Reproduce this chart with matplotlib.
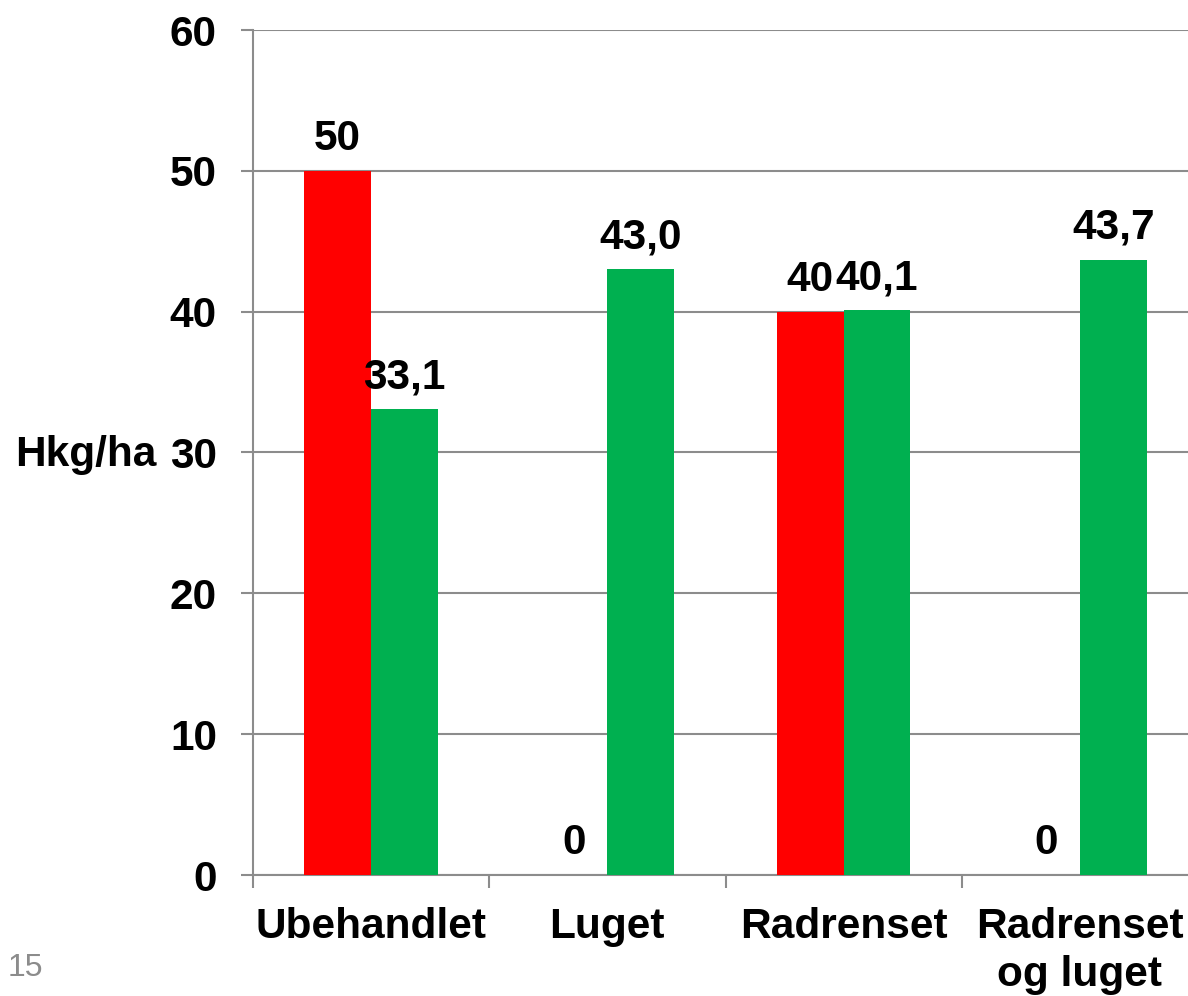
import matplotlib
matplotlib.use("Agg")
import matplotlib.pyplot as plt
import numpy as np

categories = ["Ubehandlet", "Luget", "Radrenset", "Radrenset\nog luget"]
red_values = [50, 0, 40, 0]
green_values = [33.1, 43.0, 40.1, 43.7]
red_labels = ["50", "0", "40", "0"]
green_labels = ["33,1", "43,0", "40,1", "43,7"]
yticks = [0, 10, 20, 30, 40, 50, 60]

plt.rcParams['font.family'] = ['Liberation Sans', 'DejaVu Sans']

FS = 30.5
fig = plt.figure(figsize=(11.88, 9.96), dpi=100)
ax = fig.add_axes([253/1188, 1-875/996, (1198-253)/1188, (875-30)/996])

x = np.arange(len(categories))
w = 0.283
grid_c = "#8c8c8c"
rb = ax.bar(x - w/2, red_values, w, color="#FF0000", zorder=3)
gb = ax.bar(x + w/2, green_values, w, color="#00B050", zorder=3)

for bars, labels in ((rb, red_labels), (gb, green_labels)):
    for b, lab in zip(bars, labels):
        ax.annotate(lab, (b.get_x() + b.get_width()/2, b.get_height()),
                    xytext=(0, 8.5), textcoords="offset points",
                    ha="center", va="bottom", fontsize=FS, fontweight="bold")

ax.set_xlim(-0.5, len(categories) - 0.5)
ax.set_ylim(0, 60)
ax.set_yticks(yticks)
ax.set_yticklabels([str(t) for t in yticks], fontsize=FS, fontweight="bold")
ax.yaxis.grid(True, color=grid_c, linewidth=1.5, zorder=0)
ax.tick_params(axis="y", length=9, width=1.5, color=grid_c, pad=17)

ax.set_xticks(np.arange(-0.5, len(categories)), minor=False)
ax.set_xticklabels([])
ax.set_xticks(x, minor=True)
ax.set_xticklabels(categories, minor=True, fontsize=FS, fontweight="bold", linespacing=1.25)
ax.tick_params(axis="x", which="major", length=9, width=1.5, color=grid_c, direction="out")
ax.tick_params(axis="x", which="minor", length=0, pad=23)

for s in ("top", "right"):
    ax.spines[s].set_visible(False)
for s in ("left", "bottom"):
    ax.spines[s].set_color(grid_c)
    ax.spines[s].set_linewidth(1.5)

fig.text(15/1188, 1-455/996, "Hkg/ha", fontsize=FS, fontweight="bold", ha="left", va="center")
fig.text(8/1188, 1-968/996, "15", fontsize=23, color="#8c8c8c", ha="left", va="center")

fig.savefig("out.png", dpi=100)
